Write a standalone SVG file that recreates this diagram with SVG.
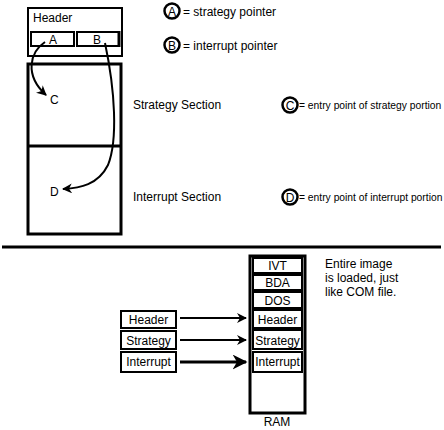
<svg xmlns="http://www.w3.org/2000/svg" width="444" height="430" viewBox="0 0 444 430">
<style>
text{font-family:"Liberation Sans",Arial,sans-serif;font-size:12px;fill:#000}
.c{text-anchor:middle}
.e{font-size:10.3px}
.box{fill:#fff;stroke:#000;stroke-width:2}
.thick{fill:none;stroke:#000;stroke-width:3}
.ln{fill:none;stroke:#000;stroke-width:2}
.circ{fill:#fff;stroke:#000;stroke-width:2.5}
</style>
<defs>
<marker id="ah" viewBox="0 0 10 10" refX="9" refY="5" markerWidth="5" markerHeight="5" orient="auto" markerUnits="strokeWidth">
<path d="M0,0 L10,5 L0,10 L3,5 Z" fill="#000"/>
</marker>
</defs>
<rect width="444" height="430" fill="#fff"/>

<g id="header-block">
<rect class="box" x="28" y="8" width="94" height="48"/>
<text x="33" y="22">Header</text>
</g>
<g id="ptr-A">
<rect class="box" x="31" y="32" width="43" height="14"/>
<text class="c" x="53" y="44">A</text>
</g>
<g id="ptr-B">
<rect class="box" x="77" y="32" width="42" height="14"/>
<line x1="119" y1="31" x2="119" y2="47" stroke="#000" stroke-width="3"/>
<text class="c" x="97" y="44">B</text>
</g>
<g id="sections">
<rect class="thick" x="28" y="64" width="93" height="170"/>
<line x1="28" y1="146" x2="121" y2="146" stroke="#000" stroke-width="3"/>
<text x="50" y="104">C</text>
<text x="50" y="196">D</text>
</g>

<g id="legend">
<circle class="circ" cx="172" cy="11" r="7.5"/>
<text class="c" x="172" y="15.5">A</text>
<text x="183" y="16">= strategy pointer</text>
<circle class="circ" cx="172" cy="45" r="7.5"/>
<text class="c" x="172" y="49.5">B</text>
<text x="183" y="50">= interrupt pointer</text>
<text x="133" y="109">Strategy Section</text>
<circle class="circ" cx="290" cy="105" r="7.5"/>
<text class="c" x="290" y="109.5">C</text>
<text class="e" x="299" y="109">= entry point of strategy portion</text>
<text x="133" y="201">Interrupt Section</text>
<circle class="circ" cx="290" cy="197" r="7.5"/>
<text class="c" x="290" y="201.5">D</text>
<text class="e" x="299" y="201">= entry point of interrupt portion</text>
</g>

<line id="separator" x1="2" y1="247" x2="441" y2="247" stroke="#000" stroke-width="3"/>

<g id="file-header"><rect class="box" x="121" y="311" width="55" height="17"/><text class="c" x="148.5" y="324">Header</text></g>
<g id="file-strategy"><rect class="box" x="121" y="331" width="55" height="18"/><text class="c" x="148.5" y="345">Strategy</text></g>
<g id="file-interrupt"><rect class="box" x="121" y="352" width="55" height="20"/><text class="c" x="148.5" y="366">Interrupt</text></g>

<g id="ram">
<rect class="thick" x="250" y="256" width="55" height="157"/>
<rect class="box" x="253" y="258" width="49" height="15"/><text class="c" x="277.5" y="270">IVT</text>
<rect class="box" x="253" y="275" width="49" height="15"/><text class="c" x="277.5" y="287">BDA</text>
<rect class="box" x="253" y="292" width="49" height="16"/><text class="c" x="277.5" y="305">DOS</text>
<rect class="box" x="253" y="310" width="49" height="18"/><text class="c" x="277.5" y="324">Header</text>
<rect class="box" x="253" y="330" width="49" height="19"/><text class="c" x="277.5" y="345">Strategy</text>
<rect class="box" x="253" y="352" width="49" height="20"/><text class="c" x="277.5" y="366">Interrupt</text>
<text class="c" x="277" y="426">RAM</text>
</g>

<g id="note">
<text x="325" y="268">Entire image</text>
<text x="325" y="282">is loaded, just</text>
<text x="325" y="296">like COM file.</text>
</g>

<g id="connectors">
<path class="ln" d="M45,42 C30,52 24,75 46,95" marker-end="url(#ah)"/>
<path class="ln" d="M105,43 C115,90 118,140 108,165 C98,185 80,188 63,189" marker-end="url(#ah)"/>
<line class="ln" x1="180" y1="318" x2="246" y2="318" marker-end="url(#ah)"/>
<line class="ln" x1="180" y1="340" x2="246" y2="340" marker-end="url(#ah)"/>
<line x1="180" y1="362" x2="246" y2="362" stroke="#000" stroke-width="3" marker-end="url(#ah)"/>
</g>
</svg>
